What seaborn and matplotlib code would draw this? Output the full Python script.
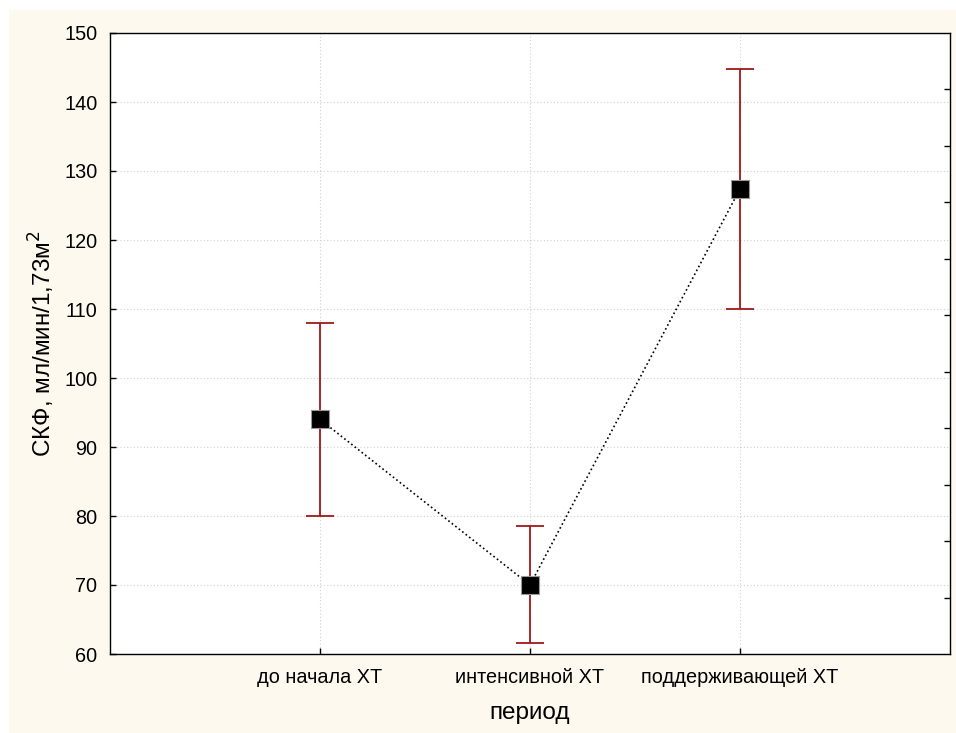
import matplotlib
matplotlib.use("Agg")
import matplotlib.pyplot as plt
import seaborn as sns
import pandas as pd
import numpy as np
from matplotlib.patches import Rectangle

# Mean GFR with confidence limits by treatment period
periods = ["до начала ХТ", "интенсивной ХТ", "поддерживающей ХТ"]
means = [94.0, 70.0, 127.4]
upper = [108.0, 78.5, 144.8]
lower = [80.0, 61.6, 110.0]

df = pd.DataFrame({"период": periods, "СКФ": means})

sns.set_theme(style="white")
plt.rcParams["font.family"] = ["Liberation Sans", "DejaVu Sans"]

fig = plt.figure(figsize=(9.56, 7.33), dpi=100, facecolor="white")
fig.patches.append(Rectangle((9 / 956, 0), 1, 1 - 10 / 733, transform=fig.transFigure,
                             facecolor="#FDF9EE", edgecolor="none", zorder=-10))
ax = fig.add_axes([110 / 956, 1 - 654 / 733, 840 / 956, 621 / 733])
ax.set_facecolor("white")

x = np.arange(len(periods))
m = np.array(means)
ax.errorbar(x, m, yerr=[m - np.array(lower), np.array(upper) - m], fmt="none",
            ecolor="#A01818", elinewidth=1.3, capsize=10, capthick=1.3, zorder=2)

sns.pointplot(data=df, x="период", y="СКФ", ax=ax, color="black", markers="s",
              linestyles=":", errorbar=None, markersize=12.5, linewidth=1.2, zorder=3)
for ln in ax.lines:
    if ln.get_marker() == "s":
        ln.set_markeredgecolor("#999999")
        ln.set_markeredgewidth(0.8)

ax.set_xlim(-1, 3)
ax.set_ylim(60, 150)
ax.set_yticks(np.arange(60, 151, 10))
ax.grid(True, linestyle=(0, (1, 2)), color="#d0d0d0", linewidth=0.8)
ax.set_axisbelow(True)

for s in ax.spines.values():
    s.set_color("black")
    s.set_linewidth(1.0)

ax.tick_params(axis="y", direction="in", length=4, width=1, colors="black",
               labelsize=14.3, pad=9, left=True, right=False)
ax.tick_params(axis="x", direction="in", length=4, width=1, colors="black",
               labelsize=14.3, pad=10, bottom=True, top=False)

# right side scale ticks
ax2 = ax.twinx()
ax2.set_ylim(0, 11)
ax2.set_yticks(np.arange(1, 11))
ax2.tick_params(axis="y", direction="in", length=4, width=1, colors="black",
                labelright=False, right=True)
ax2.grid(False)
for s in ax2.spines.values():
    s.set_visible(False)

ax.set_xlabel("период", fontsize=17.5, labelpad=11, color="black")
ax.set_ylabel("СКФ, мл/мин/1,73м$^2$", fontsize=17.5, labelpad=5, color="black")

fig.savefig("out.png", dpi=100, facecolor=fig.get_facecolor())
